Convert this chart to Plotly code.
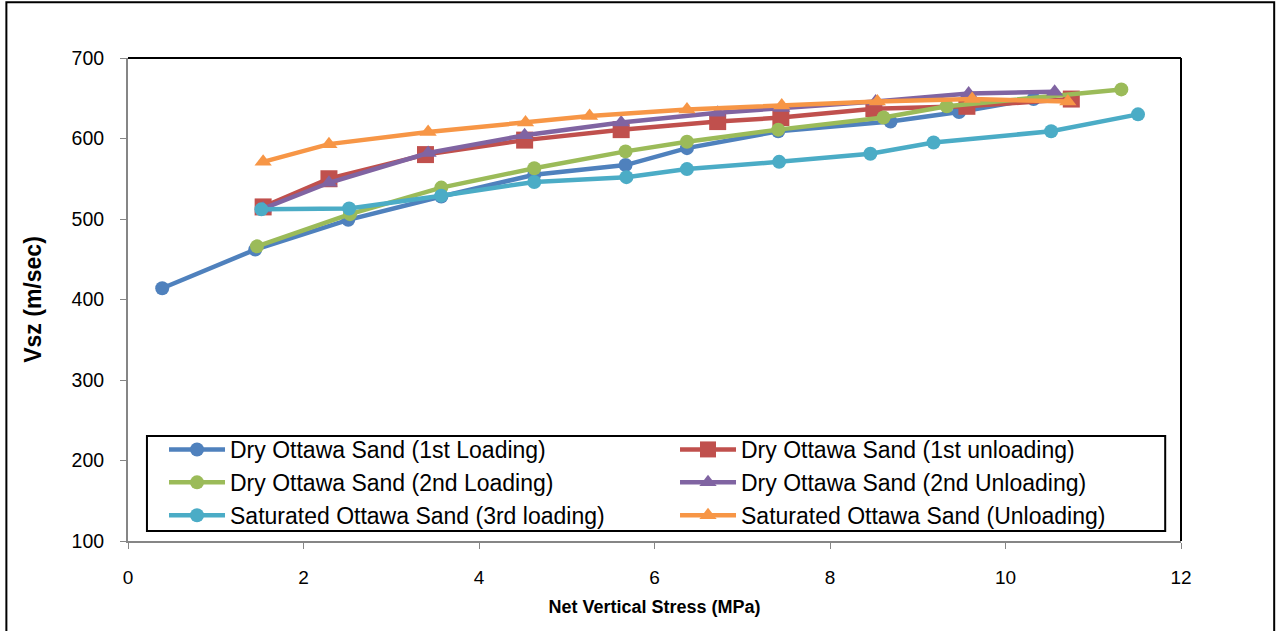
import plotly.graph_objects as go

# ---- data ----
dry1_load_x = [0.39, 1.45, 2.51, 3.57, 4.63, 5.67, 6.37, 7.41, 8.69, 9.47, 10.32]
dry1_load_y = [414, 462, 499, 528, 555, 567, 588, 609, 621, 633, 649]

dry1_unload_x = [10.75, 9.56, 8.50, 7.44, 6.72, 5.62, 4.52, 3.39, 2.29, 1.54]
dry1_unload_y = [649, 640, 637, 626, 621, 611, 598, 580, 550, 515]

dry2_load_x = [1.47, 2.53, 3.57, 4.63, 5.67, 6.37, 7.41, 8.61, 9.33, 11.32]
dry2_load_y = [466, 506, 539, 563, 584, 596, 611, 626, 640, 661]

dry2_unload_x = [10.56, 9.58, 8.52, 7.45, 6.72, 5.62, 4.52, 3.42, 2.29, 1.54]
dry2_unload_y = [658, 656, 646, 638, 632, 620, 604, 582, 545, 513]

sat3_load_x = [1.52, 2.52, 3.57, 4.63, 5.68, 6.37, 7.42, 8.46, 9.18, 10.52, 11.51]
sat3_load_y = [512, 513, 529, 546, 552, 562, 571, 581, 595, 609, 630]

sat_unload_x = [10.71, 9.62, 8.54, 7.45, 6.37, 5.26, 4.53, 3.42, 2.29, 1.54]
sat_unload_y = [646, 649, 646, 641, 636, 628, 620, 608, 593, 571]

series_names = [
    "Dry Ottawa Sand (1st Loading)",
    "Dry Ottawa Sand (1st unloading)",
    "Dry Ottawa Sand (2nd Loading)",
    "Dry Ottawa Sand (2nd Unloading)",
    "Saturated Ottawa Sand (3rd loading)",
    "Saturated Ottawa Sand (Unloading)",
]
x_ticks = [0, 2, 4, 6, 8, 10, 12]
y_ticks = [100, 200, 300, 400, 500, 600, 700]

# ---- styles ----
colors = ["#4F81BD", "#C0504D", "#9BBB59", "#8064A2", "#4BACC6", "#F79646"]
symbols = ["circle", "square", "circle", "triangle-up", "circle", "triangle-up"]
sizes = [14, 17, 14, 15, 14, 15]

xs = [dry1_load_x, dry1_unload_x, dry2_load_x, dry2_unload_x, sat3_load_x, sat_unload_x]
ys = [dry1_load_y, dry1_unload_y, dry2_load_y, dry2_unload_y, sat3_load_y, sat_unload_y]

FONT = "Liberation Sans"

fig = go.Figure()
for name, x, y, c, s, sz in zip(series_names, xs, ys, colors, symbols, sizes):
    fig.add_trace(go.Scatter(
        x=x, y=y, name=name, mode="lines+markers",
        line=dict(color=c, width=4.5),
        marker=dict(color=c, symbol=s, size=sz, line=dict(width=0)),
    ))

axis_gray = "#868686"
fig.update_xaxes(
    range=[0, 12], tickvals=x_ticks, showgrid=False, zeroline=False,
    showline=True, linecolor=axis_gray, linewidth=2,
    ticks="outside", ticklen=6, tickcolor=axis_gray, tickwidth=1,
    ticklabelstandoff=12,
    tickfont=dict(family=FONT, size=19, color="black"),
    title=dict(text="<b>Net Vertical Stress (MPa)</b>",
               font=dict(family=FONT, size=18, color="black"), standoff=14),
)
fig.update_yaxes(
    range=[100, 700], tickvals=y_ticks, showgrid=False, zeroline=False,
    showline=True, linecolor=axis_gray, linewidth=2,
    ticks="outside", ticklen=6, tickcolor=axis_gray, tickwidth=1,
    ticklabelstandoff=12,
    tickfont=dict(family=FONT, size=19.5, color="black"),
    title=dict(text="<b>Vsz (m/sec)</b>",
               font=dict(family=FONT, size=23, color="black"), standoff=24),
)

# plot-area border (top/right black) and outer chart border
fig.add_shape(type="line", xref="paper", yref="paper", x0=0, x1=1, y0=1, y1=1,
              line=dict(color="black", width=2))
fig.add_shape(type="line", xref="paper", yref="paper", x0=1, x1=1, y0=0, y1=1,
              line=dict(color="black", width=2))
fig.add_shape(type="rect", xref="paper", yref="paper",
              x0=-0.1155, x1=1.0885, y0=-0.25, y1=1.1155,
              line=dict(color="black", width=2), fillcolor="rgba(0,0,0,0)")
# legend frame
fig.add_shape(type="rect", xref="paper", yref="paper", layer="above",
              x0=0.018, x1=0.985, y0=0.0206, y1=0.2176,
              line=dict(color="black", width=2), fillcolor="white")

fig.update_layout(
    width=1276, height=631,
    margin=dict(l=128, r=95, t=58, b=90, autoexpand=False),
    paper_bgcolor="white", plot_bgcolor="white",
    font=dict(family=FONT, color="black"),
    legend=dict(
        orientation="h", x=0.0342, y=0.2340, xanchor="left", yanchor="top",
        bgcolor="rgba(0,0,0,0)", borderwidth=0,
        font=dict(family=FONT, size=23, color="black"),
        entrywidth=440, entrywidthmode="pixels", itemwidth=56,
        tracegroupgap=0,
    ),
    showlegend=True,
)

fig.write_html("out.html")
